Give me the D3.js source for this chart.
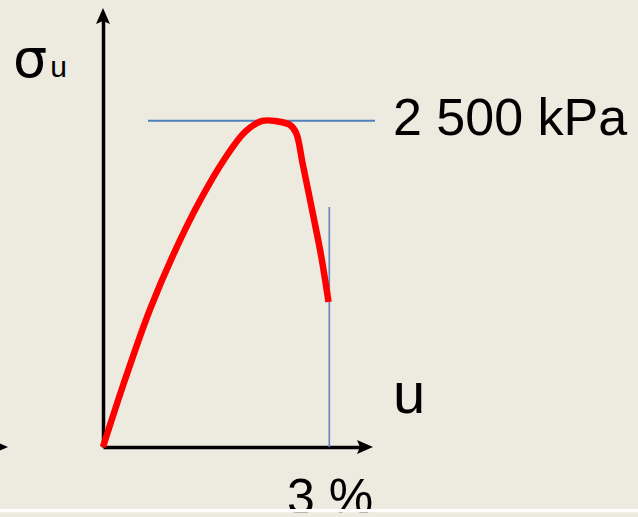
<!DOCTYPE html>
<html>
<head>
<meta charset="utf-8">
<script src="https://cdn.jsdelivr.net/npm/d3@7/dist/d3.min.js"></script>
<style>
  html, body { margin: 0; padding: 0; background: #EDEAE0; }
  svg { display: block; }
  text { font-family: "Liberation Sans", Arial, sans-serif; fill: #000; }
</style>
</head>
<body>
<svg id="chart" width="638" height="517"></svg>
<script>
// Stress–strain curve: strain u (%) against stress σu (kPa)
const strain = [0, 0.29, 0.62, 0.96, 1.29, 1.62, 1.88, 2.11, 2.32, 2.48, 2.56, 2.65, 2.78, 2.89, 2.99];
const stress = [0, 513, 1050, 1509, 1892, 2214, 2413, 2498, 2494, 2467, 2406, 2161, 1793, 1471, 1111];

// Reference levels marked on the plot
const peakStress = [2500];      // kPa
const peakLabels = ["2 500 kPa"];
const failStrain = [3];         // %
const failLabels = ["3 %"];

const W = 638, H = 517;
const svg = d3.select("#chart");

svg.append("rect").attr("width", W).attr("height", H).attr("fill", "#EDEAE0");

// Scales: origin of the axes, 3 % and 2 500 kPa positions
const x = d3.scaleLinear().domain([0, 3]).range([103, 329.3]);
const y = d3.scaleLinear().domain([0, 2500]).range([447, 120.7]);

// Axes run past the data and end in arrowheads
const xAxisEnd = 3.55, yAxisEnd = 3360;

const arrowPath = "M0,0 L-16,-7 L-13,0 L-16,7 Z";

function arrowHead(px, py, angle) {
  svg.append("path")
    .attr("d", arrowPath)
    .attr("transform", `translate(${px},${py}) rotate(${angle})`)
    .attr("fill", "#000");
}

// x axis
const xAxis = d3.axisBottom(x.copy().domain([0, xAxisEnd]).range([103, 373 - 12]))
  .tickValues([]).tickSizeOuter(0);
svg.append("g").attr("transform", `translate(0,${y(0)})`).call(xAxis)
  .select(".domain").attr("stroke", "#000").attr("stroke-width", 3.5);
arrowHead(373, y(0), 0);

// y axis
const yAxis = d3.axisLeft(y.copy().domain([0, yAxisEnd]).range([447, 8 + 12]))
  .tickValues([]).tickSizeOuter(0);
svg.append("g").attr("transform", `translate(${x(0)},0)`).call(yAxis)
  .select(".domain").attr("stroke", "#000").attr("stroke-width", 3.5);
arrowHead(x(0), 8, -90);

// arrow tip of the neighbouring diagram at the left edge
svg.append("line").attr("x1", -20).attr("x2", -4).attr("y1", y(0)).attr("y2", y(0))
  .attr("stroke", "#000").attr("stroke-width", 3.5);
arrowHead(8, y(0), 0);

// reference lines
svg.selectAll("line.peak").data(peakStress).enter().append("line")
  .attr("class", "peak")
  .attr("x1", 148).attr("x2", 375)
  .attr("y1", d => y(d)).attr("y2", d => y(d))
  .attr("stroke", "#4F81BD").attr("stroke-width", 2);

svg.selectAll("line.fail").data(failStrain).enter().append("line")
  .attr("class", "fail")
  .attr("x1", d => x(d)).attr("x2", d => x(d))
  .attr("y1", 207).attr("y2", y(0))
  .attr("stroke", "#5B86C0").attr("stroke-width", 1.6);

// the curve
const pts = strain.map((s, i) => [s, stress[i]]);
const line = d3.line().x(d => x(d[0])).y(d => y(d[1])).curve(d3.curveCatmullRom.alpha(0.5));
svg.append("path").datum(pts)
  .attr("d", line)
  .attr("fill", "none")
  .attr("stroke", "#FF0000")
  .attr("stroke-width", 6.5)
  .attr("stroke-linejoin", "round")
  .attr("stroke-linecap", "butt");

// axis labels
const ylab = svg.append("text").attr("x", 13).attr("y", 77);
ylab.append("tspan").attr("font-size", 54).style("font-family", "'DejaVu Sans', sans-serif").text("σ");
ylab.append("tspan").attr("font-size", 30).attr("dx", 3).text("u");

svg.append("text").attr("x", 393).attr("y", 413).attr("font-size", 58).text("u");

svg.selectAll("text.peak").data(peakLabels).enter().append("text")
  .attr("class", "peak").attr("x", 393).attr("y", y(peakStress[0]) + 14.5)
  .attr("font-size", 52).text(d => d);

svg.selectAll("text.fail").data(failLabels).enter().append("text")
  .attr("class", "fail").attr("x", 287).attr("y", 514)
  .attr("font-size", 50).text(d => d);

// bottom edge strip
svg.append("rect").attr("x", 0).attr("y", 509).attr("width", W).attr("height", 3.5).attr("fill", "#FFFFFF");
svg.append("rect").attr("x", 0).attr("y", 512.5).attr("width", W).attr("height", 4.5).attr("fill", "#EDEAE0");
</script>
</body>
</html>
